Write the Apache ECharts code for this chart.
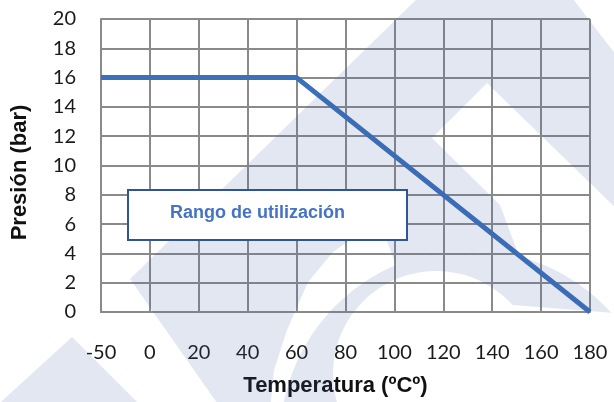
<!DOCTYPE html>
<html>
<head>
<meta charset="utf-8">
<script src="https://cdn.jsdelivr.net/npm/echarts@6/dist/echarts.min.js"></script>
<style>
  html, body { margin: 0; padding: 0; background: #fff; }
  #chart { width: 614px; height: 402px; }
</style>
</head>
<body>
<div id="chart"></div>
<script>
// categorias del eje X (temperatura, ºC)
var temps = ['-50', '0', '20', '40', '60', '80', '100', '120', '140', '160', '180'];
// puntos de la curva presion / temperatura
var curveTemps = ['-50', '60', '180'];
var curvePress = [16, 16, 0];
var boxLabel = 'Rango de utilización';

var gridColor = '#8a8a8a';
var markFill = 'rgba(60,95,160,0.15)';

// marca de agua (logo de fondo)
function arc(cx, cy, r, a0, a1, n) {
  var out = [];
  for (var i = 0; i <= n; i++) {
    var t = (a0 + (a1 - a0) * i / n) * Math.PI / 180;
    out.push([cx + r * Math.cos(t), cy + r * Math.sin(t)]);
  }
  return out;
}
var band = [[421, -5], [570, -5], [620, 60], [620, 212], [487, 83], [432, 138], [395, 195], [367, 228],
  [333, 252], [308, 282], [287, 330], [274, 370], [270, 410], [222, 410], [130, 279]];
var joint = [[432, 138], [500, 205]].concat(arc(470, 440, 190, 285, 247, 12), [[380, 222], [395, 195]]);
var crescent = arc(470, 440, 190, 191.5, 318, 40).concat(arc(436, 374, 103, 318, 164, 40));
var corner = [[72, 337], [145, 410], [-8, 410]];

function markPoly(points) {
  return { type: 'polygon', z: 50, silent: true, shape: { points: points }, style: { fill: markFill } };
}

var chart = echarts.init(document.getElementById('chart'), null, { renderer: 'canvas' });
var data = curveTemps.map(function (t, i) { return [t, curvePress[i]]; });

chart.setOption({
  animation: false,
  backgroundColor: '#fff',
  grid: { left: 101, right: 24, top: 19, bottom: 89 },
  xAxis: {
    type: 'category',
    data: temps,
    boundaryGap: false,
    name: 'Temperatura (ºCº)',
    nameLocation: 'middle',
    nameGap: 63,
    nameTextStyle: { fontFamily: 'Liberation Sans', fontWeight: 'bold', fontSize: 22, color: '#111', padding: [0, 20, 0, 0] },
    axisLine: { lineStyle: { color: gridColor, width: 2 } },
    axisTick: { show: false },
    axisLabel: { fontFamily: 'Lato', fontSize: 20, color: '#1a1a1a', margin: 31 },
    splitLine: { show: true, lineStyle: { color: gridColor, width: 2 } }
  },
  yAxis: {
    type: 'value',
    min: 0,
    max: 20,
    interval: 2,
    name: 'Presión (bar)',
    nameLocation: 'middle',
    nameGap: 70,
    nameTextStyle: { fontFamily: 'Liberation Sans', fontWeight: 'bold', fontSize: 22, color: '#111', padding: [0, 14, 0, 0] },
    axisLine: { show: true, lineStyle: { color: gridColor, width: 2 } },
    axisTick: { show: false },
    axisLabel: { fontFamily: 'Lato', fontSize: 20, color: '#1a1a1a', margin: 25 },
    splitLine: { show: true, lineStyle: { color: gridColor, width: 2 } }
  },
  series: [{
    type: 'line',
    data: data,
    symbol: 'none',
    lineStyle: { color: '#3b70ba', width: 5 },
    z: 3
  }],
  graphic: [
    markPoly(band),
    markPoly(joint),
    markPoly(crescent),
    markPoly(corner),
    {
      type: 'rect',
      z: 60,
      shape: { x: 128, y: 190, width: 279, height: 50 },
      style: { fill: '#fff', stroke: '#2f5597', lineWidth: 2 }
    },
    {
      type: 'text',
      z: 61,
      x: 170,
      y: 213,
      style: {
        text: boxLabel,
        fontFamily: 'Liberation Sans',
        fontWeight: 'bold',
        fontSize: 18,
        fill: '#4472c4',
        verticalAlign: 'middle'
      }
    }
  ]
});
</script>
</body>
</html>
